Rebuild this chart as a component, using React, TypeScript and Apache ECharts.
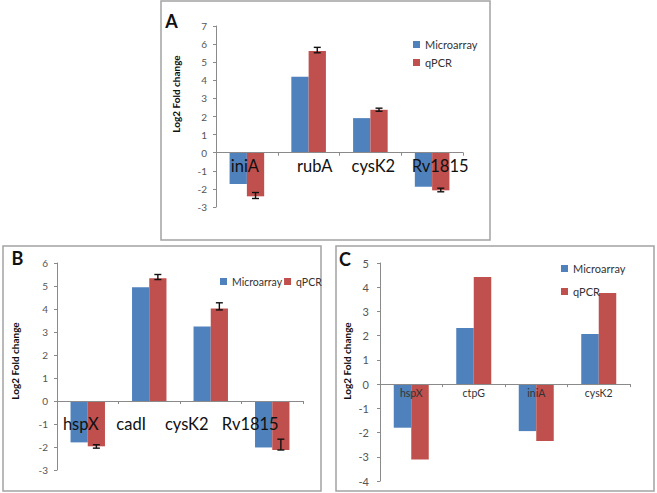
import React, { useEffect, useRef } from "react";
import * as echarts from "echarts";

// ---------- data ----------
const categoriesA = ["iniA", "rubA", "cysK2", "Rv1815"];
const microarrayA = [-1.73, 4.2, 1.91, -1.88];
const qpcrA = [-2.41, 5.62, 2.37, -2.08];
const errLowA = [-2.53, 5.52, 2.29, -2.16];
const errHighA = [-2.2, 5.82, 2.46, -1.96];

const categoriesB = ["hspX", "cadI", "cysK2", "Rv1815"];
const microarrayB = [-1.8, 4.95, 3.24, -2.02];
const qpcrB = [-1.97, 5.34, 4.02, -2.13];
const errLowB = [-2.05, 5.28, 3.96, -2.13];
const errHighB = [-1.9, 5.5, 4.27, -1.66];

const categoriesC = ["hspX", "ctpG", "iniA", "cysK2"];
const microarrayC = [-1.8, 2.32, -1.94, 2.07];
const qpcrC = [-3.11, 4.42, -2.35, 3.76];

const yRangeA = [-3, 7];
const yRangeB = [-3, 6];
const yRangeC = [-4, 5];

const seriesNames = ["Microarray", "qPCR"];
const yTitle = "Log2 Fold change";

// ---------- styles ----------
const FONT = 'Lato, "Open Sans", sans-serif';
const BLUE = "#4f81bd";
const RED = "#c0504d";
const AXIS = "#8a8a8a";
const BAR_W = "28%";
const ERR_OFFSET = 0.14;

const grids = [
  { left: 216, top: 26, width: 247, height: 181 },
  { left: 57, top: 263, width: 246, height: 207 },
  { left: 380, top: 263, width: 250, height: 218 },
];

function richLabels(offsets: number[], size: number) {
  const rich: Record<string, any> = {};
  offsets.forEach((o, i) => {
    rich["l" + i] = {
      fontFamily: FONT,
      fontSize: size,
      color: "#111",
      padding: o >= 0 ? [0, 0, 0, 2 * o] : [0, -2 * o, 0, 0],
    };
  });
  return rich;
}

function errorRender(params: any, api: any) {
  const idx = api.value(0);
  const lo = api.coord([idx, api.value(1)]);
  const hi = api.coord([idx, api.value(2)]);
  const w = api.size([1, 0])[0];
  const x = lo[0] + w * ERR_OFFSET;
  const hw = 3.5;
  const style = { stroke: "#111", lineWidth: 1.4 };
  return {
    type: "group",
    children: [
      { type: "line", shape: { x1: x, y1: lo[1], x2: x, y2: hi[1] }, style },
      { type: "line", shape: { x1: x - hw, y1: lo[1], x2: x + hw, y2: lo[1] }, style },
      { type: "line", shape: { x1: x - hw, y1: hi[1], x2: x + hw, y2: hi[1] }, style },
    ],
  };
}

// x axis drawn at the value 0 of the y range (offset upward from grid bottom)
function xAxisFor(gridIndex: number, cats: string[], range: number[], labelCfg: any) {
  const h = grids[gridIndex].height;
  const zeroFromBottom = (h * (0 - range[0])) / (range[1] - range[0]);
  return {
    type: "category",
    gridIndex,
    data: cats,
    position: "bottom",
    offset: -zeroFromBottom,
    z: 10,
    axisLine: { onZero: false, lineStyle: { color: AXIS, width: 1 } },
    axisTick: { show: true, length: 3, lineStyle: { color: AXIS } },
    axisLabel: { interval: 0, ...labelCfg },
    splitLine: { show: false },
  };
}

function yAxisFor(gridIndex: number, range: number[], fontSize: number, margin: number) {
  return {
    type: "value",
    gridIndex,
    min: range[0],
    max: range[1],
    interval: 1,
    axisLine: { show: true, onZero: false, lineStyle: { color: AXIS, width: 1 } },
    axisTick: { show: true, length: 3, lineStyle: { color: AXIS } },
    axisLabel: { fontFamily: FONT, fontSize, color: "#555", margin },
    splitLine: { show: false },
  };
}

function barPair(idx: number, micro: number[], qpcr: number[]) {
  return [
    {
      name: seriesNames[0],
      type: "bar",
      xAxisIndex: idx,
      yAxisIndex: idx,
      data: micro,
      barWidth: BAR_W,
      barGap: "0%",
      itemStyle: { color: BLUE },
    },
    {
      name: seriesNames[1],
      type: "bar",
      xAxisIndex: idx,
      yAxisIndex: idx,
      data: qpcr,
      barWidth: BAR_W,
      barGap: "0%",
      itemStyle: { color: RED },
    },
  ];
}

function errSeries(idx: number, lo: number[], hi: number[]) {
  return {
    type: "custom",
    xAxisIndex: idx,
    yAxisIndex: idx,
    z: 5,
    renderItem: errorRender,
    encode: { x: 0, y: [1, 2] },
    data: lo.map((l, i) => [i, l, hi[i]]),
    silent: true,
  };
}

const legendText = { fontFamily: FONT, fontSize: 11, color: "#333", lineHeight: 13 };

function buildOption() {
  const labelsA = {
    formatter: (v: string, i: number) => `{l${i}|${v}}`,
    rich: richLabels([-2, 6, 3, 8], 16.5),
    margin: 5,
  };
  const labelsB = {
    formatter: (v: string, i: number) => `{l${i}|${v}}`,
    rich: richLabels([-7, -18, -24, -22], 16.5),
    margin: 14,
  };
  const labelsC = { fontFamily: FONT, fontSize: 10.5, color: "#333", margin: 3 };

  const border = (x: number, y: number, w: number, h: number) => ({
    type: "rect",
    shape: { x, y, width: w, height: h },
    style: { fill: "none", stroke: "#a3a3a3", lineWidth: 1.5 },
    silent: true,
  });
  const letter = (t: string, x: number, y: number) => ({
    type: "text",
    x,
    y,
    style: {
      text: t,
      font: `bold 18px ${FONT}`,
      fill: "#111",
      textAlign: "center",
      textVerticalAlign: "middle",
    },
  });
  const title = (x: number, y: number) => ({
    type: "text",
    x,
    y,
    rotation: Math.PI / 2,
    style: {
      text: yTitle,
      font: `bold 10px ${FONT}`,
      fill: "#111",
      textAlign: "center",
      textVerticalAlign: "middle",
    },
  });

  return {
    animation: false,
    backgroundColor: "#fff",
    grid: grids,
    xAxis: [
      xAxisFor(0, categoriesA, yRangeA, labelsA),
      xAxisFor(1, categoriesB, yRangeB, labelsB),
      xAxisFor(2, categoriesC, yRangeC, labelsC),
    ],
    yAxis: [yAxisFor(0, yRangeA, 10, 9), yAxisFor(1, yRangeB, 10, 9), yAxisFor(2, yRangeC, 11, 11)],
    legend: [
      {
        data: seriesNames,
        orient: "vertical",
        left: 408,
        top: 33,
        itemWidth: 7,
        itemHeight: 7,
        itemGap: 5,
        icon: "rect",
        textStyle: legendText,
        selectedMode: false,
      },
      {
        data: seriesNames,
        orient: "horizontal",
        left: 215,
        top: 270,
        itemWidth: 7,
        itemHeight: 7,
        itemGap: 2,
        icon: "rect",
        textStyle: { ...legendText, fontSize: 10.5 },
        selectedMode: false,
      },
      {
        data: seriesNames,
        orient: "vertical",
        left: 556,
        top: 257,
        itemWidth: 7,
        itemHeight: 7,
        itemGap: 10,
        icon: "rect",
        textStyle: legendText,
        selectedMode: false,
      },
    ],
    graphic: [
      border(161, 1, 329, 239),
      border(3, 246, 318, 245),
      border(336, 246, 318, 245),
      letter("A", 171.5, 21),
      letter("B", 17.5, 257.5),
      letter("C", 345, 259),
      title(175.5, 94),
      title(15, 361),
      title(346.5, 361),
    ],
    series: [
      ...barPair(0, microarrayA, qpcrA),
      errSeries(0, errLowA, errHighA),
      ...barPair(1, microarrayB, qpcrB),
      errSeries(1, errLowB, errHighB),
      ...barPair(2, microarrayC, qpcrC),
    ],
  };
}

export default function App() {
  const ref = useRef<HTMLDivElement>(null);
  useEffect(() => {
    if (!ref.current) return;
    const chart = echarts.init(ref.current, undefined, { renderer: "svg" });
    chart.setOption(buildOption() as any);
    return () => chart.dispose();
  }, []);
  return (
    <div
      ref={ref}
      style={{ position: "fixed", left: 0, top: 0, width: 657, height: 493, background: "#fff" }}
    />
  );
}
